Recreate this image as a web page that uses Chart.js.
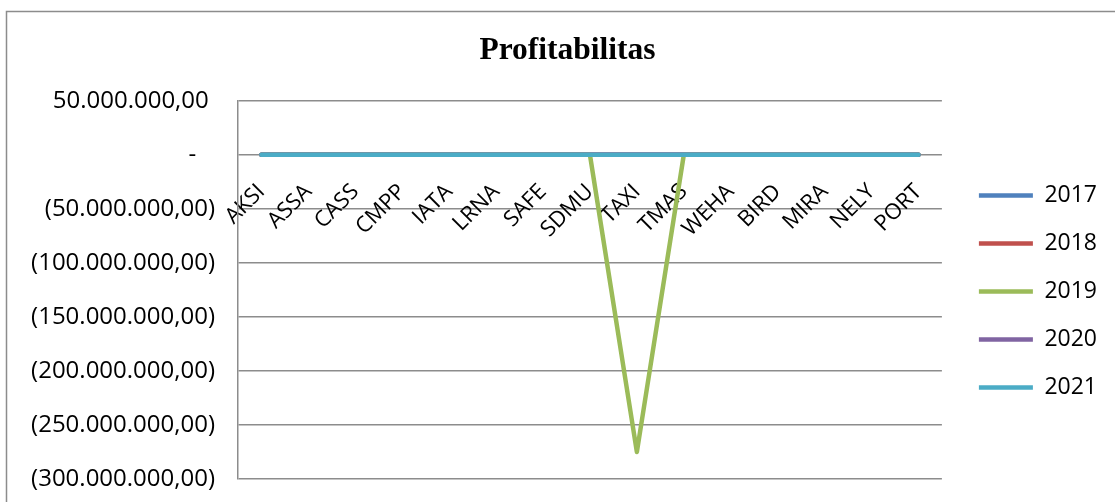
<!DOCTYPE html>
<html>
<head>
<meta charset="utf-8">
<script src="https://cdn.jsdelivr.net/npm/chart.js@4"></script>
<style>
  body { margin: 0; background: #fff; }
  canvas { display: block; }
</style>
</head>
<body>
<canvas id="canvas" width="1115" height="502"></canvas>
<script>
var canvas = document.getElementById("canvas");
var ctx = canvas.getContext("2d");

// data
var companies = ['AKSI', 'ASSA', 'CASS', 'CMPP', 'IATA', 'LRNA', 'SAFE', 'SDMU',
                 'TAXI', 'TMAS', 'WEHA', 'BIRD', 'MIRA', 'NELY', 'PORT'];
var years = ['2017', '2018', '2019', '2020', '2021'];
var p2017 = [0, 0, 0, 0, 0, 0, 0, 0, 0, 0, 0, 0, 0, 0, 0];
var p2018 = [0, 0, 0, 0, 0, 0, 0, 0, 0, 0, 0, 0, 0, 0, 0];
var p2019 = [0, 0, 0, 0, 0, 0, 0, 0, -275000000, 0, 0, 0, 0, 0, 0];
var p2020 = [0, 0, 0, 0, 0, 0, 0, 0, 0, 0, 0, 0, 0, 0, 0];
var p2021 = [0, 0, 0, 0, 0, 0, 0, 0, 0, 0, 0, 0, 0, 0, 0];
var yMin = -300000000;
var yMax = 50000000;
var yStep = 50000000;

var colors = ['#4f81bd', '#c0504d', '#9bbb59', '#8064a2', '#4bacc6'];
var series = [p2017, p2018, p2019, p2020, p2021];

Chart.defaults.font.family = "'Open Sans', sans-serif";
Chart.defaults.color = '#000';

function rupiah(v) {
    if (v == 0) return '-\u00a0\u00a0\u00a0';
    var s = Math.abs(v).toFixed(0).replace(/\B(?=(\d{3})+(?!\d))/g, '.') + ',00';
    return v < 0 ? '(' + s + ')' : s + '\u00a0';
}

let datasets = [];
for (let i = 0; i < years.length; i++) {
    datasets.push({
        label: years[i],
        data: series[i],
        borderColor: colors[i],
        backgroundColor: colors[i],
        borderWidth: 4.5,
        borderCapStyle: 'round',
        borderJoinStyle: 'round',
        pointRadius: 0,
        tension: 0,
        order: years.length - i
    });
}

var frame = {
    id: 'frame',
    beforeDraw(chart) {
        let c = chart.ctx;
        c.save();
        c.fillStyle = '#fff';
        c.fillRect(0, 0, chart.width, chart.height);
        c.strokeStyle = '#8c8c8c';
        c.lineWidth = 1.5;
        c.strokeRect(6.5, 11.5, 1300, 700);
        c.restore();
    }
};

let gray = '#8c8c8c';

let chart = new Chart(ctx, {
    type: 'line',
    data: { labels: companies, datasets: datasets },
    options: {
        responsive: false,
        animation: false,
        devicePixelRatio: 1,
        layout: { padding: { left: 28, top: 12, right: 8, bottom: 23 } },
        plugins: {
            title: {
                display: true,
                text: 'Profitabilitas',
                font: { family: "'Liberation Serif', serif", size: 31.5, weight: 'bold' },
                color: '#000',
                padding: { top: 20, bottom: 31 }
            },
            legend: {
                position: 'right',
                align: 'start',
                title: { display: true, text: ' ', font: { size: 10 }, padding: { top: 135, bottom: 0 } },
                labels: {
                    usePointStyle: true,
                    pointStyle: 'line',
                    pointStyleWidth: 54,
                    boxHeight: 5,
                    padding: 25,
                    font: { size: 23 },
                    color: '#000',
                    sort: (a, b) => a.datasetIndex - b.datasetIndex
                }
            },
            tooltip: { enabled: false }
        },
        scales: {
            x: {
                position: { y: 0 },
                offset: true,
                afterFit: (scale) => { scale.height = 0; },
                grid: { display: false },
                border: { display: false },
                ticks: {
                    autoSkip: false,
                    minRotation: 45,
                    maxRotation: 45,
                    padding: 16,
                    font: { size: 22 },
                    color: '#000'
                }
            },
            y: {
                min: yMin,
                max: yMax,
                afterFit: (scale) => {
                    scale.width = 210;
                    scale.paddingTop = 0;
                    scale.paddingBottom = 0;
                },
                grid: { color: gray, lineWidth: 1.5, drawTicks: false },
                border: { color: gray, width: 1.5 },
                ticks: {
                    stepSize: yStep,
                    padding: 23,
                    font: { size: 24 },
                    color: '#000',
                    callback: (v) => rupiah(v)
                }
            },
            gap: {
                position: 'right',
                display: true,
                grid: { display: false },
                border: { display: false },
                ticks: { display: false },
                afterFit: (scale) => { scale.width = 12; }
            }
        }
    },
    plugins: [frame]
});
</script>
</body>
</html>
